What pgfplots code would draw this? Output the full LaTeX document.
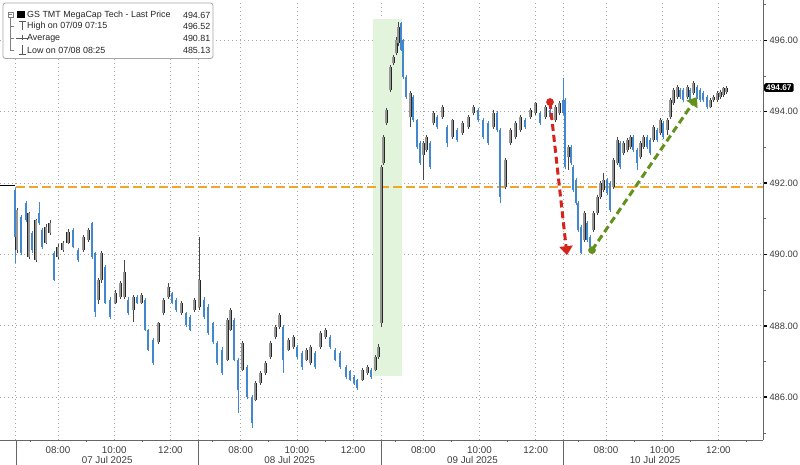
\documentclass[border=0pt]{standalone}
\usepackage{pgfplots}
\usepackage{pgfplotstable}
\pgfplotsset{compat=1.18}
\usepackage{fontspec}
\setmainfont{Liberation Sans}
\usetikzlibrary{arrows.meta}
\definecolor{bodygray}{RGB}{150,150,150}
\definecolor{wickgray}{RGB}{70,70,70}
\definecolor{barblue}{RGB}{66,136,206}
\definecolor{orangeline}{RGB}{240,165,45}
\definecolor{shade}{RGB}{226,244,220}
\definecolor{redarrow}{RGB}{214,36,28}
\definecolor{greenarrow}{RGB}{98,146,28}
\definecolor{labgray}{RGB}{60,60,60}
\definecolor{gridgray}{RGB}{165,165,165}

\pgfplotstableread{
t o h l c
15 491.80 491.85 489.76 490.49
17 490.12 491.30 490.04 491.24
21 491.05 491.10 489.98 490.04
26 491.44 491.50 490.90 490.96
29 489.93 491.20 489.88 491.16
32 490.60 490.65 490.05 490.12
36 489.84 491.00 489.80 490.96
39 491.16 491.47 490.82 490.88
42 490.68 490.75 490.15 490.21
46 490.32 490.85 490.28 490.77
50 490.60 490.96 490.55 490.88
54 490.04 490.10 489.25 489.29
58 489.93 490.28 489.88 490.21
63 490.12 490.38 490.08 490.32
68 490.32 490.70 490.28 490.63
73 490.68 490.75 490.18 490.21
78 490.12 490.18 489.80 489.84
83 490.12 490.55 490.08 490.49
88 490.40 490.75 490.35 490.68
92 490.88 490.90 489.88 489.93
95 490.04 490.08 488.25 488.40
98 488.73 489.35 488.60 489.29
101 489.29 490.10 489.20 490.04
105 489.65 489.70 488.60 488.64
110 488.73 488.80 488.20 488.25
115 488.64 489.00 488.60 488.92
120 488.81 489.25 488.75 489.20
124 488.81 489.84 488.75 489.50
128 488.73 488.80 488.30 488.36
133 488.44 488.86 488.10 488.81
137 488.81 488.86 488.60 488.64
141 488.64 488.92 488.60 488.86
145 488.73 488.78 487.85 487.88
148 487.88 487.92 487.28 487.33
153 487.61 487.65 486.91 486.96
158 487.55 488.12 487.50 488.08
163 488.36 488.78 488.30 488.73
168 488.81 489.20 488.76 489.09
172 488.92 488.96 488.60 488.64
176 488.73 488.78 488.40 488.44
181 488.36 488.70 488.30 488.64
186 488.36 488.40 487.97 488.03
190 488.25 488.30 487.85 487.88
194 488.44 488.78 488.40 488.73
199 488.53 490.49 488.44 489.29
204 488.73 488.80 488.20 488.25
208 488.53 488.60 487.75 487.80
213 488.08 488.12 487.50 487.55
217 487.52 487.58 486.91 486.96
222 487.33 487.40 486.62 486.68
227 487.05 488.22 487.00 488.17
230 487.88 488.50 487.85 488.44
234 488.17 488.22 487.00 487.05
238 487.05 487.10 485.56 486.21
242 486.77 487.58 486.72 487.52
247 486.85 486.90 485.95 486.01
252 486.01 486.05 485.13 485.28
255 485.93 486.45 485.88 486.40
260 486.40 486.72 486.35 486.68
265 486.68 487.00 486.62 486.96
270 487.13 487.58 487.08 487.52
275 487.69 488.02 487.64 487.97
279 487.97 488.36 487.92 488.30
283 487.97 488.02 486.68 487.05
288 487.33 487.66 487.28 487.61
293 487.41 487.75 487.36 487.69
297 487.41 487.46 487.08 487.13
302 487.24 487.30 486.77 486.85
306 487.05 487.38 487.00 487.33
310 486.96 487.46 486.90 487.41
315 487.24 487.30 486.80 486.85
320 487.41 487.85 487.36 487.80
325 487.69 487.94 487.64 487.88
330 487.69 487.75 487.36 487.41
335 487.33 487.38 487.00 487.05
340 487.24 487.30 486.80 486.85
346 486.85 486.90 486.52 486.57
350 486.72 486.77 486.45 486.49
354 486.57 486.62 486.35 486.40
357 486.49 486.52 486.21 486.26
362 486.49 486.82 486.45 486.77
367 486.68 486.90 486.62 486.85
371 486.77 486.82 486.52 486.57
375 486.77 487.18 486.72 487.13
378 487.13 487.50 487.08 487.41
381 488.08 492.50 487.97 492.45
383 492.56 493.35 492.50 493.29
386 493.68 494.10 493.62 494.05
390 494.61 495.30 494.55 495.25
393 495.36 495.60 495.30 495.53
396 495.64 496.08 495.58 496.01
398 495.92 496.52 495.85 496.37
401 496.48 496.52 495.70 495.73
403 496.01 496.05 494.92 494.97
406 494.97 495.02 494.36 494.41
410 493.85 494.58 493.57 494.52
413 494.41 494.46 493.70 493.76
417 493.76 493.80 492.95 493.01
420 493.12 493.18 492.50 492.56
423 492.80 493.18 492.08 493.12
426 492.92 493.35 492.88 493.29
430 493.12 493.18 492.40 492.45
433 493.68 494.02 493.62 493.96
437 493.85 493.90 493.52 493.57
442 493.85 494.19 493.80 494.13
447 493.57 493.62 493.01 493.12
452 493.29 493.80 493.24 493.76
457 493.48 493.54 493.15 493.20
462 493.40 493.74 493.35 493.68
468 493.57 493.90 493.52 493.85
473 493.96 494.19 493.90 494.13
478 494.05 494.10 493.70 493.76
483 493.76 493.82 493.24 493.29
488 493.68 493.74 493.06 493.12
493 493.57 494.05 493.52 493.96
497 493.96 494.02 493.42 493.48
500 493.48 493.54 491.44 491.61
505 491.89 492.70 491.83 492.64
510 493.12 493.54 493.06 493.48
515 493.29 493.74 493.24 493.68
520 493.48 493.90 493.42 493.85
525 493.76 493.82 493.52 493.57
530 493.85 494.10 493.80 494.05
535 493.96 494.27 493.90 494.24
540 493.96 494.02 493.62 493.68
545 493.85 494.19 493.80 494.13
550 494.05 494.10 493.80 493.85
555 493.76 494.19 493.70 494.13
559 493.96 494.30 493.90 494.24
563 494.33 494.94 493.90 493.96
565 494.33 494.38 492.40 492.45
568 492.73 493.06 492.36 493.01
571 493.01 493.06 492.50 492.56
573 492.45 492.50 491.75 491.80
576 492.08 492.14 491.38 491.44
578 491.44 491.50 490.63 490.68
581 490.77 490.82 490.00 490.04
584 490.40 491.22 490.35 491.16
587 490.88 490.94 490.35 490.40
590 490.49 490.55 490.12 490.21
593 490.68 491.22 490.63 491.16
597 491.16 491.66 491.10 491.61
600 491.61 492.06 491.55 492.00
603 491.80 492.28 491.75 492.08
607 492.08 492.14 491.66 491.72
610 492.00 492.06 491.20 491.24
613 491.89 492.70 491.83 492.64
617 492.56 493.29 492.50 493.20
620 493.12 493.18 492.40 492.45
623 492.84 493.18 492.78 493.12
627 492.92 493.26 492.86 493.20
630 493.01 493.35 492.95 493.29
633 493.29 493.35 492.86 492.92
637 492.92 492.98 492.36 492.56
640 492.73 493.18 492.68 493.12
643 493.01 493.35 492.95 493.29
647 493.29 493.35 492.95 493.01
650 493.20 493.26 492.78 492.84
653 493.20 493.62 493.15 493.57
657 493.48 493.54 493.15 493.20
660 493.40 493.82 493.35 493.76
663 493.68 493.74 493.24 493.29
667 493.48 493.82 493.35 493.76
670 493.85 494.38 493.80 494.33
673 494.24 494.66 494.19 494.61
677 494.41 494.75 494.36 494.69
680 494.61 494.66 494.36 494.41
683 494.61 494.66 494.28 494.33
687 494.41 494.75 494.36 494.69
690 494.61 494.66 494.28 494.33
693 494.52 494.85 494.47 494.80
697 494.69 494.75 494.36 494.41
700 494.61 494.66 494.28 494.33
703 494.52 494.58 494.28 494.33
707 494.41 494.47 494.08 494.13
710 494.13 494.38 494.10 494.33
713 494.33 494.47 494.28 494.41
717 494.33 494.58 494.28 494.52
720 494.41 494.61 494.36 494.55
723 494.47 494.70 494.41 494.66
726 494.55 494.72 494.50 494.67
}\bars

\pgfplotsset{
  upbars/.style={restrict expr to domain={\thisrow{c}-\thisrow{o}}{0:100}},
  downbars/.style={restrict expr to domain={\thisrow{c}-\thisrow{o}}{-100:-0.0001}},
  wick/.style={quiver={u=0, v=\thisrow{h}-\thisrow{l}, every arrow/.append style={line width=0.8pt}}, mark=none},
  body/.style={quiver={u=0, v=\thisrow{c}-\thisrow{o}, every arrow/.append style={line width=#1}}, mark=none},
}

\begin{document}
\begin{tikzpicture}
\begin{axis}[
  at={(0pt,25pt)}, anchor=south west,
  scale only axis, width=763pt, height=440pt,
  xmin=0, xmax=763, ymin=484.80, ymax=497.13,
  axis x line*=bottom, axis y line*=right,
  axis line style={draw=gray!80!black, line width=0.8pt},
  xtick={58.0,114.2,170.4,240.7,296.9,353.1,423.3,479.5,535.7,606.0,662.2,718.4},
  xticklabels={08:00,10:00,12:00,08:00,10:00,12:00,08:00,10:00,12:00,08:00,10:00,12:00},
  minor xtick={29.9,86.1,142.3,212.55,268.75,324.95,395.2,451.4,507.6,577.85,634.05,690.25,746.5},
  extra x ticks={15.85,198.5,381.15,563.8},
  extra x tick labels={},
  extra x tick style={grid=major},
  ytick={486,488,490,492,494,496},
  yticklabels={486.00,488.00,490.00,492.00,494.00,496.00},
  minor ytick={485,487,489,491,493,495,497},
  tick align=outside,
  major tick length=4pt, minor tick length=2.5pt,
  major x tick style={draw=none},
  minor x tick style={draw=gray!80!black, line width=0.6pt},
  major y tick style={draw=black, line width=1.4pt},
  minor y tick style={draw=gray!80!black, line width=0.6pt},
  xmajorgrids, ymajorgrids,
  major grid style={draw=gridgray, line width=0.8pt, dash pattern=on 1pt off 3pt},
  xticklabel style={font=\fontsize{9.8}{11}\selectfont, text=labgray, yshift=1pt},
  yticklabel style={font=\fontsize{9.3}{11}\selectfont, text=labgray, xshift=-1pt},
]
% shaded region
\addplot[fill=shade, draw=none, forget plot] coordinates {(373,486.59) (402,486.59) (402,496.59) (373,496.59)} -- cycle;
% previous close segment
\addplot[black, line width=0.8pt] coordinates {(0,491.94) (15,491.94)};
% orange average line
\addplot[orangeline, line width=2.6pt, dash pattern=on 9pt off 4pt] coordinates {(16,491.89) (763,491.89)};
% wicks
\addplot[upbars, wick, draw=wickgray] table[x=t, y=l] {\bars};
\addplot[downbars, wick, draw=barblue] table[x=t, y=l] {\bars};
% bodies
\addplot[upbars, body=3.0pt, draw=black!85] table[x=t, y=o] {\bars};
\addplot[upbars, body=1.4pt, draw=bodygray] table[x=t, y=o] {\bars};
\addplot[downbars, body=2.4pt, draw=barblue] table[x=t, y=o] {\bars};
% annotation arrows
\addplot[redarrow, line width=3pt, dash pattern=on 7pt off 4pt, -{Triangle[length=9pt,width=13pt]}] coordinates {(550,494.27) (567,489.98)};
\addplot[redarrow, only marks, mark=*, mark size=3.6pt] coordinates {(550,494.27)};
\addplot[greenarrow, line width=3pt, dash pattern=on 7pt off 4pt, -{Triangle[length=9pt,width=13pt]}] coordinates {(592,490.12) (697,494.41)};
\addplot[greenarrow, only marks, mark=*, mark size=3.6pt] coordinates {(592,490.12)};
\end{axis}
% pixel-coordinate overlay
\begin{scope}[x=1pt, y=-1pt, shift={(0pt,465pt)}]
  \foreach \xx in {15.85,198.5,381.15,563.8} \draw[gray!80!black, line width=0.7pt] (\xx,440) -- (\xx,465);
  \foreach \xx/\dd in {107.2/07 Jul 2025, 289.8/08 Jul 2025, 472.5/09 Jul 2025, 655.1/10 Jul 2025}
    \node[font=\fontsize{9.8}{11}\selectfont, text=labgray, inner sep=0pt] at (\xx,459.5) {\dd};
  \node[fill=black, text=white, rounded corners=1.5pt, inner xsep=2pt, inner ysep=1.5pt, anchor=west,
        font=\fontsize{8.3}{9}\selectfont\bfseries] at (764,87.5) {494.67};
  % legend box
  \draw[gray!70, line width=0.8pt, fill=white, rounded corners=2.5pt] (3,3) rectangle (213,58.5);
  \draw[gray, line width=0.5pt] (8,12) rectangle (13,17);
  \draw[gray, line width=0.5pt] (9,14.5) -- (12,14.5);
  \fill[black] (17,11) rectangle (24.5,18.5);
  \draw[gray, line width=0.5pt] (10.5,17) -- (10.5,50) -- (14,50);
  \draw[gray, line width=0.5pt] (10.5,26) -- (14,26) (10.5,38) -- (14,38);
  \draw[gray!70!black, line width=0.7pt] (18.5,21.5) -- (25.5,21.5) (22,21.5) -- (22,30);
  \draw[gray!70!black, line width=0.7pt] (16,38) -- (28,38) (22,35.5) -- (22,40.5);
  \draw[gray!70!black, line width=0.7pt] (22,45.5) -- (22,54) (18.5,54) -- (25.5,54);
  \begin{scope}[every node/.style={font=\fontsize{8.9}{10}\selectfont, text=black!85, inner sep=0pt}]
    \node[anchor=west] at (27,15) {GS TMT MegaCap Tech - Last Price};
    \node[anchor=west] at (27,26.5) {High on 07/09 07:15};
    \node[anchor=west] at (27,38.5) {Average};
    \node[anchor=west] at (27,50.5) {Low on 07/08 08:25};
    \node[anchor=east] at (210.5,15) {494.67};
    \node[anchor=east] at (210.5,26.5) {496.52};
    \node[anchor=east] at (210.5,38.5) {490.81};
    \node[anchor=east] at (210.5,50.5) {485.13};
  \end{scope}
\end{scope}
\pgfresetboundingbox
\path[use as bounding box] (0,0) rectangle (800pt,465pt);
\end{tikzpicture}
\end{document}
